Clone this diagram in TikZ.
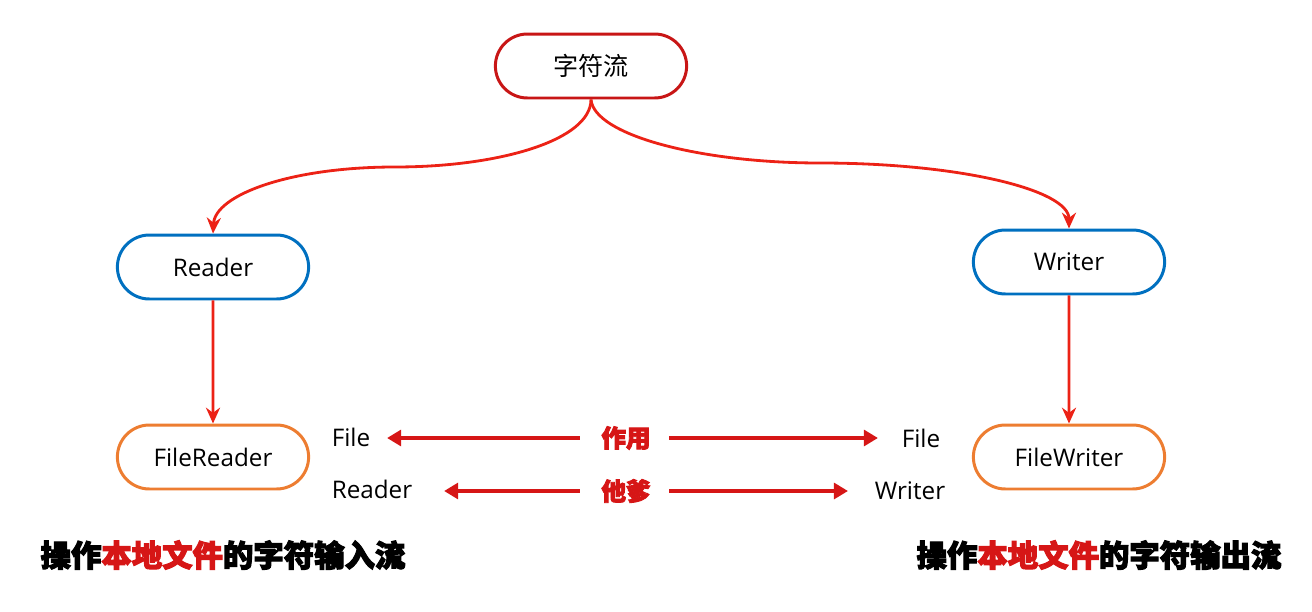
\documentclass[tikz,border=0pt]{standalone}
\usepackage{fontspec}
\setmainfont{Open Sans}
\newfontfamily\cjk{Noto Sans CJK SC}
\newfontfamily\cjkheavy[FakeBold=3.5]{Noto Sans CJK SC}
\usetikzlibrary{shapes.misc, arrows.meta}
\definecolor{streamred}{RGB}{200,22,22}
\definecolor{flowred}{RGB}{236,34,22}
\definecolor{readblue}{RGB}{0,112,192}
\definecolor{fileorange}{RGB}{237,125,49}
\definecolor{tagred}{RGB}{214,22,22}

\begin{document}
\begin{tikzpicture}[x=0.02cm, y=-0.02cm,
  box/.style={draw, rounded rectangle, line width=1.7pt, fill=white, minimum width=4.06cm, minimum height=1.28cm, font=\fontsize{13.8}{15}\selectfont},
  flow/.style={draw=flowred, line width=1.6pt, -{Stealth[length=9pt, width=8pt]}},
  tagarrow/.style={draw=tagred, line width=2.2pt, -{Triangle[length=8pt, width=9pt]}},
  side/.style={font=\fontsize{13.8}{15}\selectfont, inner sep=2pt},
  tag/.style={text=tagred, font=\cjkheavy\bfseries\fontsize{14}{15}\selectfont, inner sep=2pt},
  caption/.style={font=\cjkheavy\bfseries\fontsize{17.3}{19}\selectfont}]
  % Page frame
  \useasboundingbox (0,0) rectangle (1312,612);

  % Tree nodes
  \node[box, draw=streamred] (stream) at (591,66) {\cjk\fontsize{14.3}{15}\selectfont 字符流};
  \node[box, draw=readblue] (reader) at (213,267) {Reader};
  \node[box, draw=readblue] (writer) at (1069,262) {Writer};
  \node[box, draw=fileorange] (filereader) at (213,457) {FileReader};
  \node[box, draw=fileorange] (filewriter) at (1069,457) {FileWriter};

  % Tree arrows
  \draw[flow] (stream.south) .. controls (591,140) and (500,167) .. (395,167)
    .. controls (290,167) and (215,195) .. (reader.north);
  \draw[flow] (stream.south) .. controls (594,135) and (700,163) .. (820,163)
    .. controls (960,163) and (1069,190) .. (writer.north);
  \draw[flow] (reader) -- (filereader);
  \draw[flow] (writer) -- (filewriter);

  % Name parts
  \node[side] (fileL) at (351,437) {File};
  \node[side] (readerL) at (372,489) {Reader};
  \node[side] (fileR) at (921,438) {File};
  \node[side] (writerR) at (910,491) {Writer};
  \node[tag] (zuoyong) at (626,438) {作用};
  \node[tag] (tadie) at (626,491) {他爹};

  \draw[tagarrow, shorten <=0.36cm, shorten >=0.26cm] (zuoyong.west) -- (fileL.east |- zuoyong.west);
  \draw[tagarrow, shorten <=0.3cm, shorten >=0.4cm] (zuoyong.east) -- (fileR.west |- zuoyong.east);
  \draw[tagarrow, shorten <=0.36cm, shorten >=0.56cm] (tadie.west) -- (readerL.east |- tadie.west);
  \draw[tagarrow, shorten <=0.3cm, shorten >=0.46cm] (tadie.east) -- (writerR.west |- tadie.east);

  % Captions
  \node[caption] (capin) at (223,555) {操作\textcolor{tagred}{本地文件}的字符输入流};
  \node[caption] (capout) at (1099,555) {操作\textcolor{tagred}{本地文件}的字符输出流};
\end{tikzpicture}
\end{document}
